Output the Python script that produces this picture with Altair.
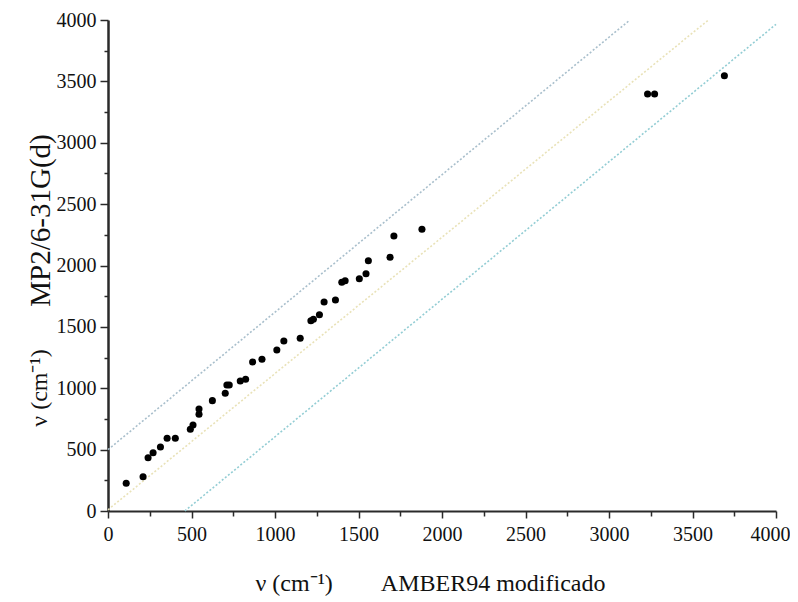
import altair as alt
import pandas as pd

# Scatter data (AMBER94 modificado vs MP2/6-31G(d))
amber_x = [109, 210, 240, 270, 314, 354, 403, 493, 509, 545, 545, 625, 702, 712,
           726, 792, 824, 866, 922, 1011, 1053, 1151, 1215, 1230, 1266, 1294,
           1362, 1400, 1420, 1505, 1545, 1559, 1689, 1712, 1880, 3231, 3273, 3691]
mp2_y = [226, 279, 434, 475, 521, 592, 592, 666, 701, 788, 831, 899, 959, 1026,
         1026, 1059, 1073, 1214, 1236, 1312, 1385, 1407, 1550, 1562, 1599, 1703,
         1719, 1863, 1876, 1892, 1933, 2039, 2067, 2240, 2295, 3397, 3397, 3546]

# Reference lines (end points)
line_names = ["upper", "middle", "lower"]
line_x0 = [0, 0, 460]
line_y0 = [500, 10, 0]
line_x1 = [3125, 3595, 4000]
line_y1 = [4000, 4000, 3965]
line_colors = ["#a9bfcc", "#e9e2b8", "#93cdd4"]

tick_values = list(range(0, 4001, 250))

pts = pd.DataFrame({"amber": amber_x, "mp2": mp2_y})
lines = pd.DataFrame({"name": line_names, "x0": line_x0, "y0": line_y0,
                      "x1": line_x1, "y1": line_y1})

FONT = "Liberation Serif"
xscale = alt.Scale(domain=[0, 4000], nice=False, zero=False)
yscale = alt.Scale(domain=[0, 4000], nice=False, zero=False)

common = dict(
    values=tick_values,
    format="d",
    labelExpr="datum.value % 500 === 0 ? datum.label : ''",
    grid=False,
    domainColor="#2a2a2a",
    tickColor="#2a2a2a",
    tickWidth=1.5,
    labelFont=FONT,
    labelFontSize=20,
    labelColor="#111111",
    labelFlush=False,
    labelOverlap=False,
    titleFont=FONT,
    titleFontWeight="normal",
    titleColor="#111111",
)

xaxis = alt.Axis(
    **common,
    tickSize={"condition": {"test": "datum.value % 500 !== 0", "value": 5}, "value": 7},
    labelOffset={"condition": {"test": "datum.value === 4000", "value": -6}, "value": 0},
    domainWidth=2,
    labelPadding=6,
    title="ν (cm⁻¹)\u2003\u2003AMBER94 modificado",
    titleFontSize=24,
    titleX=322,
    titleY=72,
    titleBaseline="middle",
    titleAlign="center",
)
yaxis = alt.Axis(
    **common,
    tickSize={"condition": {"test": "datum.value % 500 !== 0", "value": 4}, "value": 8},
    domainWidth=2.5,
    labelPadding=4,
    title="MP2/6-31G(d)",
    titleFontSize=29,
    titleAngle=270,
    titleX=-68,
    titleY=200,
    titleBaseline="middle",
    titleAlign="center",
)

line_layer = alt.Chart(lines).mark_rule(strokeWidth=1.6, strokeDash=[2, 2]).encode(
    x=alt.X("x0:Q", scale=xscale, axis=xaxis),
    x2="x1:Q",
    y=alt.Y("y0:Q", scale=yscale, axis=yaxis),
    y2="y1:Q",
    color=alt.Color("name:N", scale=alt.Scale(domain=line_names, range=line_colors), legend=None),
)

point_layer = alt.Chart(pts).mark_circle(size=50, color="black", opacity=1).encode(
    x=alt.X("amber:Q", scale=xscale, axis=xaxis),
    y=alt.Y("mp2:Q", scale=yscale, axis=yaxis),
)

# second part of the y-axis title (smaller unit text)
unit_text = alt.Chart(pd.DataFrame({"t": ["ν (cm⁻¹)"]})).mark_text(
    angle=270, font=FONT, fontSize=24, color="#111111", align="center", baseline="middle"
).encode(x=alt.value(-68), y=alt.value(368), text="t:N")

chart = alt.layer(line_layer, point_layer, unit_text).properties(
    width=668,
    height=491,
    autosize=alt.AutoSizeParams(type="none"),
    padding={"left": 100, "top": 12, "right": 14, "bottom": 86},
    background="white",
).configure_view(stroke=None)

chart.save("out.html", embed_options={"renderer": "svg", "actions": False})
